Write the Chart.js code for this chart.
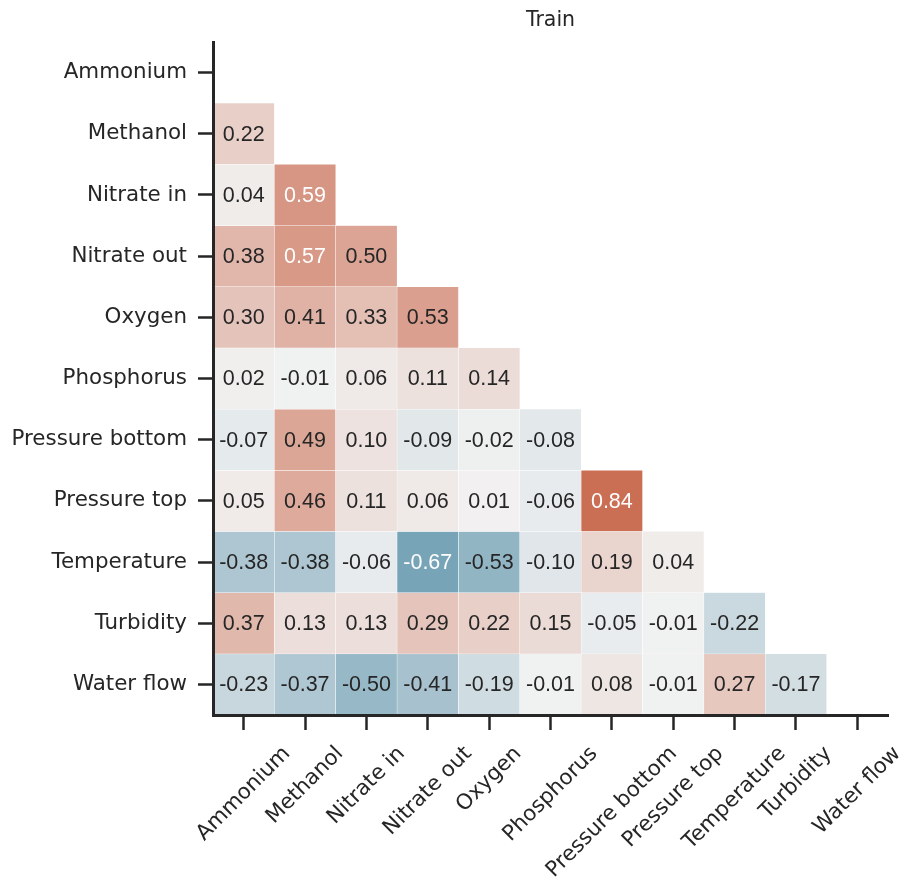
<!DOCTYPE html>
<html>
<head>
<meta charset="utf-8">
<script src="https://cdn.jsdelivr.net/npm/chart.js@4.4.1/dist/chart.umd.min.js"></script>
<style>
  html, body { margin: 0; padding: 0; background: #ffffff; }
  #wrap { width: 902px; height: 878px; position: relative; }
</style>
</head>
<body>
<div id="wrap"><canvas id="c" width="902" height="878"></canvas></div>
<script>
// ---- data ----
const chartTitle = 'Train';
const variables = ['Ammonium', 'Methanol', 'Nitrate in', 'Nitrate out', 'Oxygen', 'Phosphorus',
  'Pressure bottom', 'Pressure top', 'Temperature', 'Turbidity', 'Water flow'];
const rowAmmonium = [];
const rowMethanol = [0.22];
const rowNitrateIn = [0.04, 0.59];
const rowNitrateOut = [0.38, 0.57, 0.50];
const rowOxygen = [0.30, 0.41, 0.33, 0.53];
const rowPhosphorus = [0.02, -0.01, 0.06, 0.11, 0.14];
const rowPressureBottom = [-0.07, 0.49, 0.10, -0.09, -0.02, -0.08];
const rowPressureTop = [0.05, 0.46, 0.11, 0.06, 0.01, -0.06, 0.84];
const rowTemperature = [-0.38, -0.38, -0.06, -0.67, -0.53, -0.10, 0.19, 0.04];
const rowTurbidity = [0.37, 0.13, 0.13, 0.29, 0.22, 0.15, -0.05, -0.01, -0.22];
const rowWaterFlow = [-0.23, -0.37, -0.50, -0.41, -0.19, -0.01, 0.08, -0.01, 0.27, -0.17];
const corrRows = [rowAmmonium, rowMethanol, rowNitrateIn, rowNitrateOut, rowOxygen, rowPhosphorus,
  rowPressureBottom, rowPressureTop, rowTemperature, rowTurbidity, rowWaterFlow];

// ---- style ----
const INK = '#262626';
const LABEL_FONT = '"DejaVu Sans", sans-serif';
const CELL_FONT = '"Liberation Sans", Arial, sans-serif';
const NEG_END = [60, 126, 155];
const CENTER = [242, 242, 242];
const POS_END = [196, 86, 54];

function cmap(v) {
  const t = Math.max(-1, Math.min(1, v));
  const end = t < 0 ? NEG_END : POS_END;
  const f = Math.abs(t);
  return CENTER.map((c, k) => Math.round(c + f * (end[k] - c)));
}
function rgbStr(c) { return 'rgb(' + c.join(',') + ')'; }
function luminance(c) {
  const lin = c.map(x => { x /= 255; return x <= 0.03928 ? x / 12.92 : Math.pow((x + 0.055) / 1.055, 2.4); });
  return 0.2126 * lin[0] + 0.7152 * lin[1] + 0.0722 * lin[2];
}

const datasets = corrRows.map((row, r) => ({
  label: variables[r],
  data: variables.map((_, j) => (j < row.length ? [r - 0.5, r + 0.5] : null)),
  values: variables.map((_, j) => (j < row.length ? row[j] : null)),
  backgroundColor: variables.map((_, j) => (j < row.length ? rgbStr(cmap(row[j])) : 'rgba(0,0,0,0)')),
  borderColor: '#ffffff',
  borderWidth: 0.5,
  borderSkipped: false,
  grouped: false,
  barPercentage: 1,
  categoryPercentage: 1
}));

const annotPlugin = {
  id: 'annot',
  afterDatasetsDraw(chart) {
    const ctx = chart.ctx;
    ctx.save();
    ctx.font = '21.5px ' + CELL_FONT;
    ctx.textAlign = 'center';
    ctx.textBaseline = 'middle';
    chart.data.datasets.forEach((ds, di) => {
      const meta = chart.getDatasetMeta(di);
      meta.data.forEach((el, j) => {
        const v = ds.values[j];
        if (v === null || v === undefined) return;
        const p = el.getCenterPoint();
        ctx.fillStyle = luminance(cmap(v)) < 0.408 ? '#ffffff' : INK;
        ctx.fillText(v.toFixed(2), p.x, p.y + 1);
      });
    });
    ctx.restore();
  },
  afterDraw(chart) {
    const ctx = chart.ctx;
    const area = chart.chartArea;
    const xs = chart.scales.x;
    ctx.save();
    ctx.fillStyle = INK;
    // title
    ctx.font = '20.5px ' + LABEL_FONT;
    ctx.textAlign = 'center';
    ctx.textBaseline = 'alphabetic';
    ctx.fillText(chartTitle, (area.left + area.right) / 2, 26);
    // rotated x labels, centered on their tick
    ctx.font = '21.3px ' + LABEL_FONT;
    ctx.textBaseline = 'middle';
    variables.forEach((lab, i) => {
      const x = xs.getPixelForTick(i);
      const w = ctx.measureText(lab).width;
      const cy = area.bottom + 28 + (w / 2 + 10.5) * Math.SQRT1_2;
      ctx.save();
      ctx.translate(x, cy);
      ctx.rotate(-Math.PI / 4);
      ctx.fillText(lab, 0, 0);
      ctx.restore();
    });
    ctx.restore();
  }
};

new Chart(document.getElementById('c'), {
  type: 'bar',
  data: { labels: variables, datasets },
  options: {
    responsive: false,
    animation: false,
    devicePixelRatio: 1,
    layout: { padding: { top: 42, right: 14, left: 0, bottom: 0 } },
    plugins: { legend: { display: false }, tooltip: { enabled: false }, title: { display: false } },
    scales: {
      x: {
        type: 'category',
        offset: true,
        ticks: { display: false },
        grid: { z: 1, drawOnChartArea: false, offset: false, tickLength: 15, tickWidth: 2.5, tickColor: INK },
        border: { z: 1, display: true, width: 3, color: INK },
        afterFit: s => { s.height = 163; }
      },
      y: {
        type: 'linear',
        reverse: true,
        min: -0.5,
        max: 10.5,
        afterBuildTicks: s => { s.ticks = variables.map((_, i) => ({ value: i })); },
        ticks: {
          autoSkip: false,
          padding: 11,
          color: INK,
          font: { family: LABEL_FONT, size: 21.4 },
          callback: (v) => variables[v]
        },
        grid: { z: 1, drawOnChartArea: false, tickLength: 15, tickWidth: 2.5, tickColor: INK },
        border: { z: 1, display: true, width: 3, color: INK },
        afterFit: s => { s.width = 213; }
      }
    }
  },
  plugins: [annotPlugin]
});
</script>
</body>
</html>
